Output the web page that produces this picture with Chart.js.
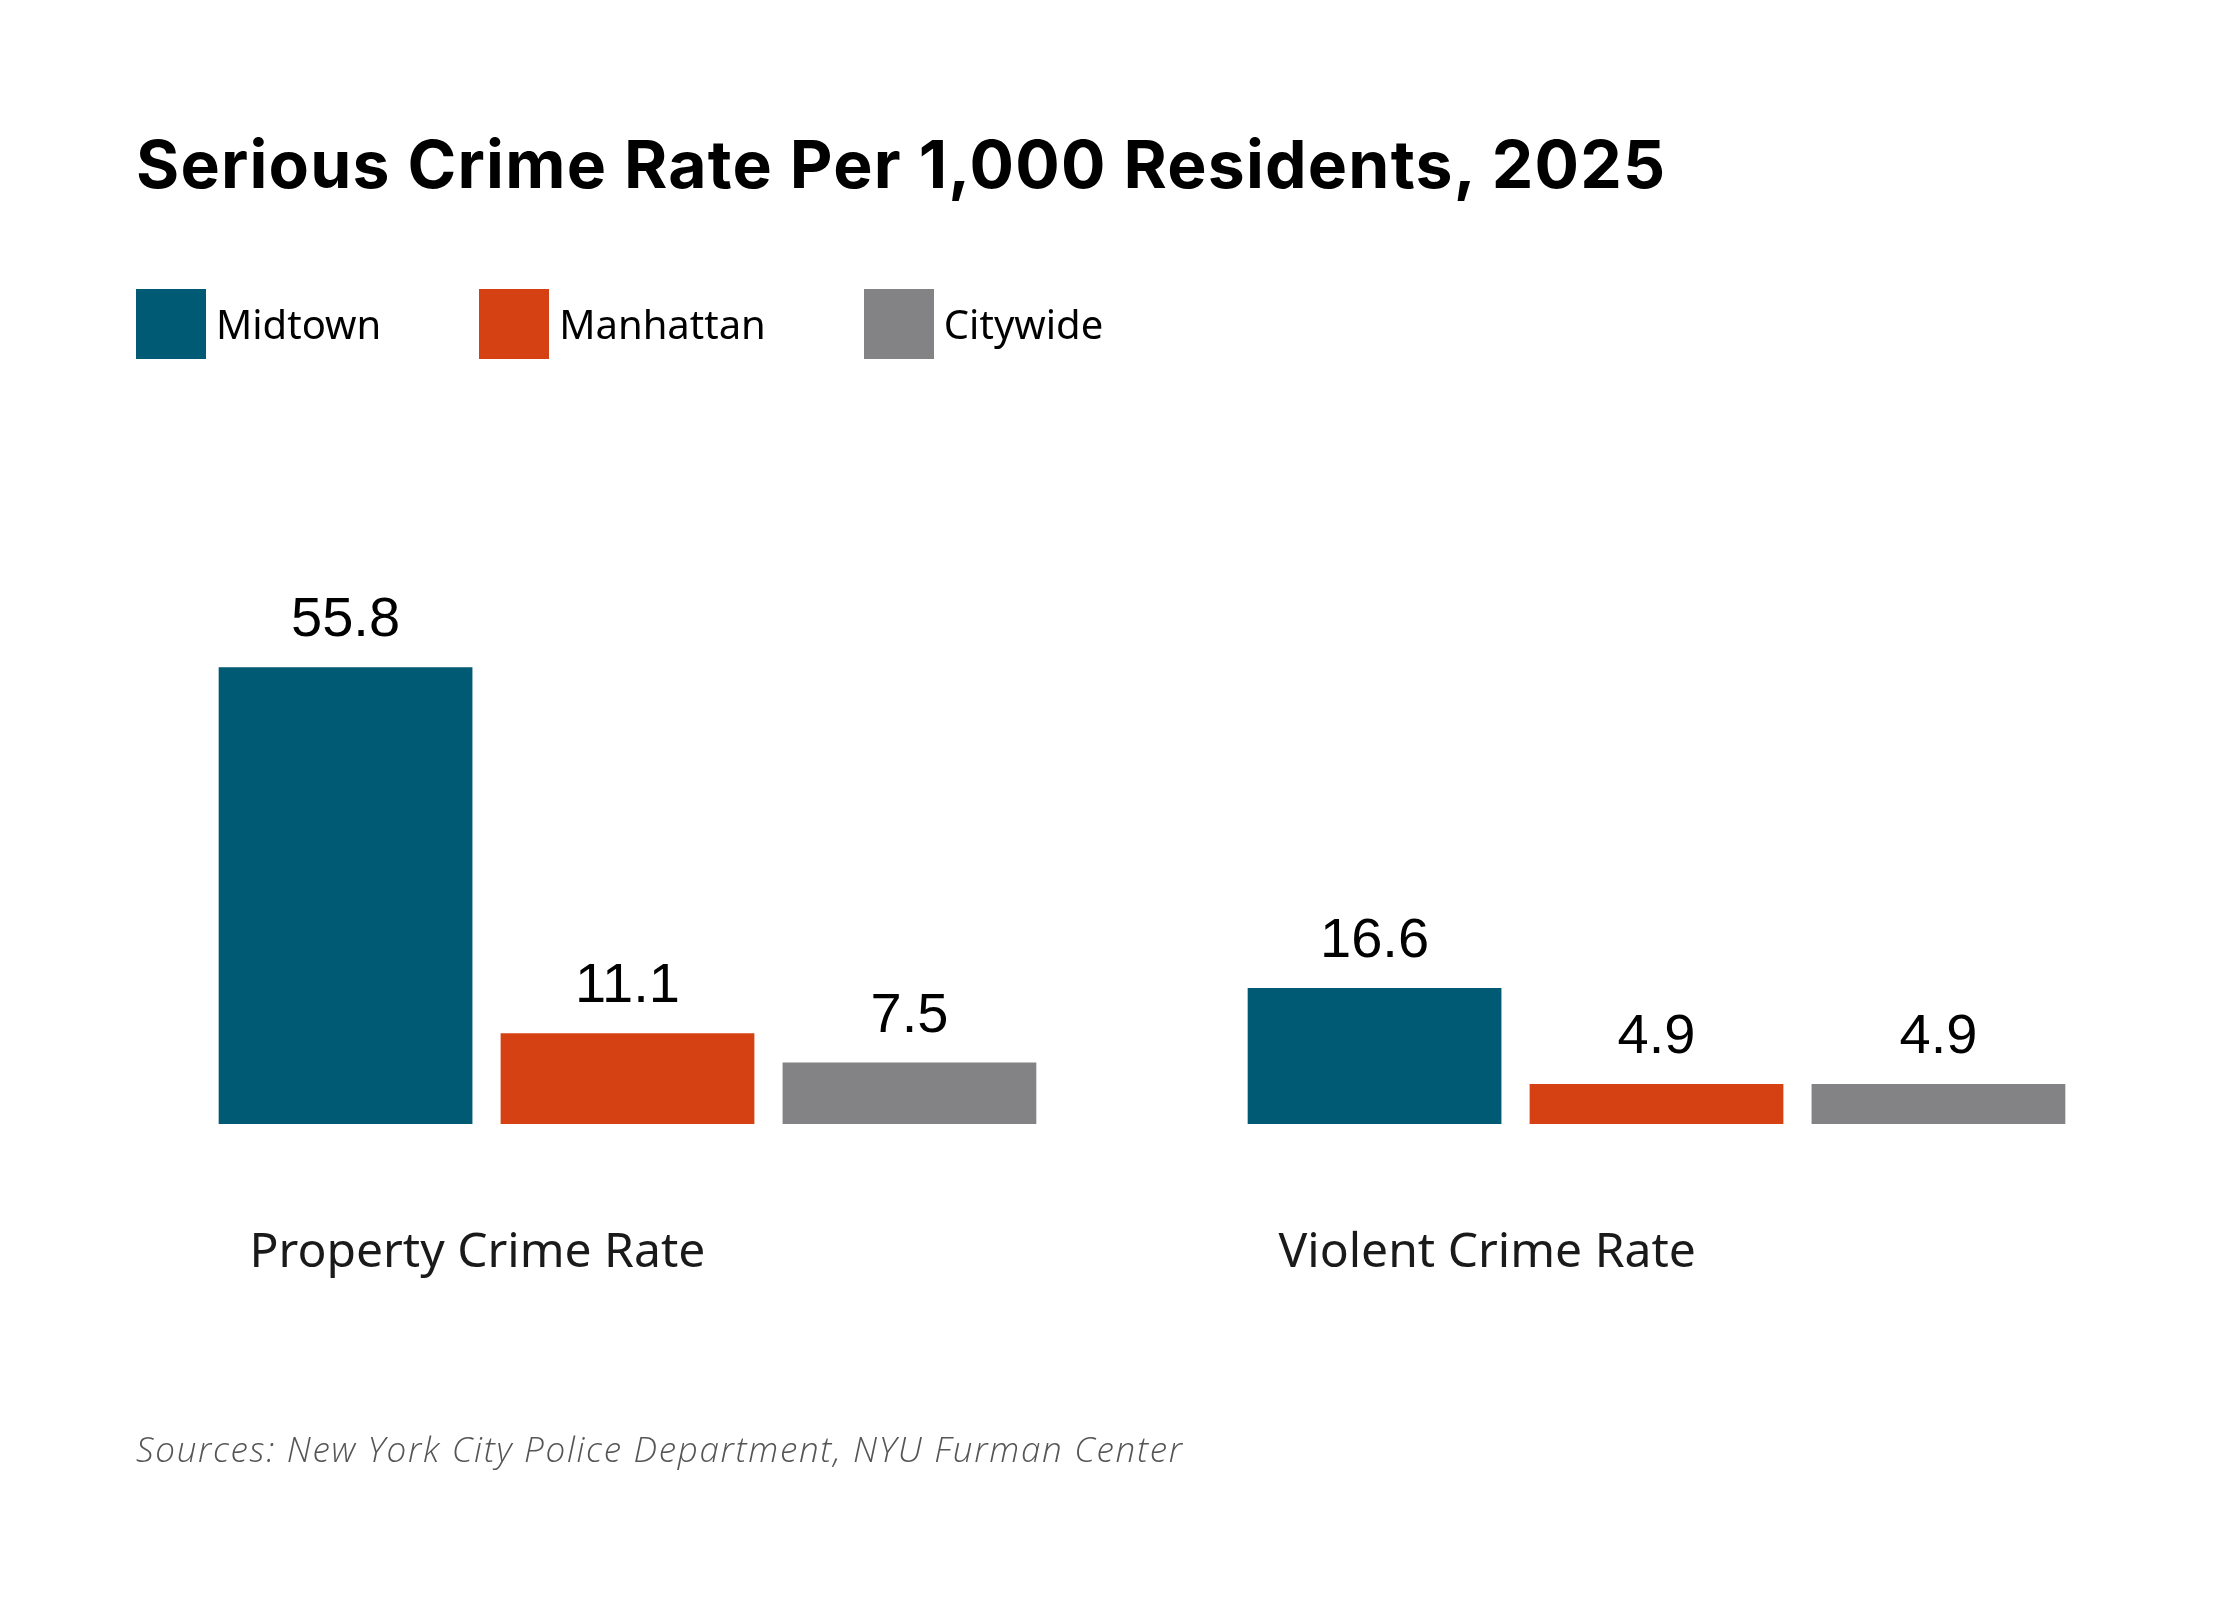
<!DOCTYPE html>
<html>
<head>
<meta charset="utf-8">
<title>Serious Crime Rate Per 1,000 Residents, 2025</title>
<script src="https://cdn.jsdelivr.net/npm/chart.js@4.4.1/dist/chart.umd.min.js"></script>
<style>
  html, body { margin: 0; padding: 0; background: #fff; }
  #wrap { position: relative; width: 2240px; height: 1600px; overflow: hidden; }
  #chartBox { position: absolute; left: 0; top: 0; width: 2240px; height: 1600px; }
  .title {
    position: absolute; left: 136px; top: 120px; margin: 0;
    font: 700 66px "Inter", "Roboto", sans-serif; letter-spacing: 1.2px;
    color: #000; white-space: nowrap;
  }
  .legend {
    position: absolute; left: 136px; top: 289px; height: 70px;
    display: flex; align-items: center;
  }
  .legend .item { display: flex; align-items: center; margin-right: 98px; }
  .legend .swatch { width: 70px; height: 70px; margin-right: 10px; }
  .legend .label {
    font: 400 40px "Noto Sans", sans-serif; line-height: 70px; color: #000; white-space: nowrap;
  }
  .source {
    position: absolute; left: 136px; top: 1420px; margin: 0;
    font: italic 300 35px "Open Sans", sans-serif; letter-spacing: 1.7px;
    color: #555; white-space: nowrap;
  }
</style>
</head>
<body>
<div id="wrap">
  <div id="chartBox"><canvas id="crime"></canvas></div>
  <h1 class="title" id="title"></h1>
  <div class="legend" id="legend"></div>
  <p class="source" id="source"></p>
</div>
<script>
// data
var titleText = "Serious Crime Rate Per 1,000 Residents, 2025";
var sourceText = "Sources: New York City Police Department, NYU Furman Center";
var categories = ["Property Crime Rate", "Violent Crime Rate"];
var seriesNames = ["Midtown", "Manhattan", "Citywide"];
var midtown = [55.8, 16.6];
var manhattan = [11.1, 4.9];
var citywide = [7.5, 4.9];
var seriesColors = ["#005a74", "#d64113", "#838385"];

var seriesValues = [midtown, manhattan, citywide];

document.getElementById("title").textContent = titleText;
document.getElementById("source").textContent = sourceText;

var legendEl = document.getElementById("legend");
seriesNames.forEach(function(name, i){
    var item = document.createElement("div");
    item.className = "item";
    var sw = document.createElement("span");
    sw.className = "swatch";
    sw.style.background = seriesColors[i];
    var lb = document.createElement("span");
    lb.className = "label";
    lb.textContent = name;
    item.appendChild(sw);
    item.appendChild(lb);
    legendEl.appendChild(item);
});

// move a text block so its baseline sits on y
function putOnBaseline(el, y){
    var probe = document.createElement("span");
    probe.style.cssText = "display:inline-block;width:0;height:0;vertical-align:baseline";
    el.appendChild(probe);
    var base = probe.getBoundingClientRect().top;
    el.removeChild(probe);
    el.style.top = (parseFloat(getComputedStyle(el).top) + y - base) + "px";
}

// value labels above the bars
var barValues = {
    id: "barValues",
    afterDatasetsDraw: function(chart){
        var ctx = chart.ctx;
        ctx.save();
        ctx.font = "56px 'Liberation Sans', Arial, sans-serif";
        ctx.fillStyle = "#000";
        ctx.textAlign = "center";
        ctx.textBaseline = "alphabetic";
        chart.data.datasets.forEach(function(ds, i){
            chart.getDatasetMeta(i).data.forEach(function(bar, j){
                ctx.fillText(ds.data[j].toFixed(1), bar.x, bar.y - 31);
            });
        });
        ctx.restore();
    }
};

function drawChart(){
    new Chart(document.getElementById("crime").getContext("2d"), {
        type: "bar",
        data: {
            labels: categories,
            datasets: seriesNames.map(function(name, i){
                return {
                    label: name,
                    data: seriesValues[i],
                    backgroundColor: seriesColors[i],
                    borderWidth: 0,
                    categoryPercentage: 0.822,
                    barPercentage: 0.9
                };
            })
        },
        options: {
            responsive: true,
            maintainAspectRatio: false,
            animation: false,
            layout: { padding: { left: 113, right: 69, top: 551, bottom: 316 } },
            plugins: {
                legend: { display: false },
                title: { display: false },
                tooltip: { enabled: false }
            },
            scales: {
                x: {
                    grid: { display: false, drawTicks: false },
                    border: { display: false },
                    afterFit: function(scale){ scale.height = 160; },
                    ticks: {
                        align: "start",
                        labelOffset: -378,
                        padding: 101,
                        maxRotation: 0,
                        autoSkip: false,
                        color: "#1a1a1a",
                        font: { family: "'Noto Sans', sans-serif", size: 48, lineHeight: 1.2 }
                    }
                },
                y: {
                    display: false,
                    min: 0,
                    max: 70
                }
            }
        },
        plugins: [barValues]
    });
}

document.fonts.load("56px 'Liberation Sans'").then(function(){
    return document.fonts.ready;
}).then(function(){
    putOnBaseline(document.getElementById("title"), 188);
    putOnBaseline(document.getElementById("source"), 1462);
    drawChart();
});
</script>
</body>
</html>
